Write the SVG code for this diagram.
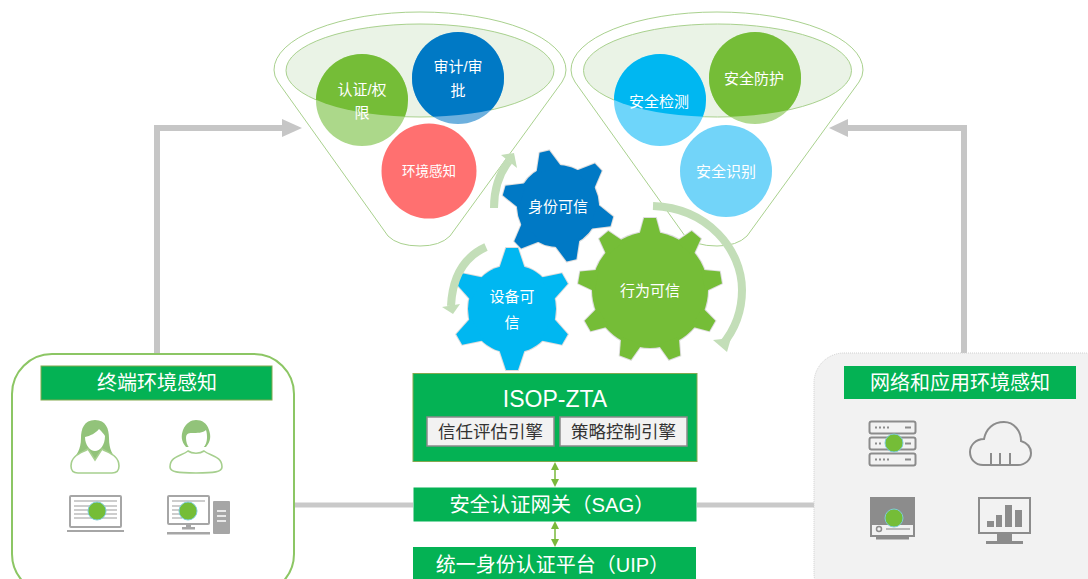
<svg xmlns="http://www.w3.org/2000/svg" width="1088" height="579" viewBox="0 0 1088 579">
<style>
text{font-family:"Liberation Sans","Noto Sans CJK SC","Noto Sans",sans-serif;text-anchor:middle;dominant-baseline:central}
.w{fill:#fff}.c15{font-size:15px}.t20{font-size:20px}
.fun{fill:#fff;stroke:#A9D18E;stroke-width:1}
.ell{fill:#EAF3E6;stroke:#A9D18E;stroke-width:1}
.bar{fill:#04B254;stroke:#84A94F;stroke-width:1}
.sub{fill:#F2F2F2;stroke:#8A8A8A;stroke-width:1.5}
.big{fill:none;stroke:#C6C6C6;stroke-width:6}
.cur{fill:none;stroke:#C3DEB8;stroke-width:8}
.curh{fill:#C3DEB8}
.dbl{stroke:#7AB93B;stroke-width:1.5}
.dblh{fill:#7AB93B}
.ico{fill:none;stroke:#A6A6A6;stroke-width:2}
.ic2{fill:none;stroke:#8C8C8C;stroke-width:2}
.fil{fill:#8C8C8C}
.gry{fill:#A6A6A6}
.dot{fill:#75BD37;stroke:#7CCBD6;stroke-width:1}
.per{fill:#fff;stroke:#A6CF8E;stroke-width:1.6}
.hair{fill:#92C37A}
</style>
<defs>
<clipPath id="e1"><ellipse cx="420" cy="70.500" rx="134" ry="46.500"/></clipPath>
<clipPath id="e2"><ellipse cx="717.500" cy="70.500" rx="134" ry="46.500"/></clipPath>
<path id="funnel" d="M274 70A146 58 0 0 1 566 70Q566 76 562 82L450 236Q440 246 420 246Q398 246 388 236L278 82Q274 76 274 70Z"/>
<g id="g6">
<circle r="44"/>
<polygon id="t6" points="-13,-40 -6,-61 6,-61 13,-40"/>
<use href="#t6" transform="rotate(60)"/><use href="#t6" transform="rotate(120)"/><use href="#t6" transform="rotate(180)"/><use href="#t6" transform="rotate(240)"/><use href="#t6" transform="rotate(300)"/>
</g>
<g id="gb">
<circle r="41"/>
<polygon id="tb" points="-13,-37 -5,-56 5,-56 13,-37"/>
<use href="#tb" transform="rotate(60)"/><use href="#tb" transform="rotate(120)"/><use href="#tb" transform="rotate(180)"/><use href="#tb" transform="rotate(240)"/><use href="#tb" transform="rotate(300)"/>
</g>
<g id="g9">
<circle r="58"/>
<polygon id="t9" points="-11,-54 -6,-72 6,-72 11,-54"/>
<use href="#t9" transform="rotate(40)"/><use href="#t9" transform="rotate(80)"/><use href="#t9" transform="rotate(120)"/><use href="#t9" transform="rotate(160)"/><use href="#t9" transform="rotate(200)"/><use href="#t9" transform="rotate(240)"/><use href="#t9" transform="rotate(280)"/><use href="#t9" transform="rotate(320)"/>
</g>
</defs>
<rect width="1088" height="579" fill="#fff"/>

<g id="connectors">
<path class="big" d="M157 355V128H284"/>
<polygon points="302,128 282,119 282,137" fill="#C6C6C6"/>
<path class="big" d="M964 355V128H846"/>
<polygon points="829,128 848,119 848,137" fill="#C6C6C6"/>
<path d="M294 505H413M697 505H814" fill="none" stroke="#C9C9C9" stroke-width="5"/>
<path class="dbl" d="M555 468V481M555 527V541"/>
<polygon class="dblh" points="555,462 551,470 559,470"/>
<polygon class="dblh" points="555,487 551,479 559,479"/>
<polygon class="dblh" points="555,521 551,529 559,529"/>
<polygon class="dblh" points="555,547 551,539 559,539"/>
</g>

<g id="funnel-left">
<use href="#funnel" class="fun"/>
<ellipse class="ell" cx="420" cy="70.500" rx="134" ry="46.500"/>
<circle cx="362" cy="100" r="46" fill="#ACD88A"/>
<circle cx="362" cy="100" r="46" fill="#75BD37" clip-path="url(#e1)"/>
<circle cx="458" cy="78" r="46" fill="#6DB0DE"/>
<circle cx="458" cy="78" r="46" fill="#0079C5" clip-path="url(#e1)"/>
<circle cx="429" cy="171" r="47.500" fill="#FF7070"/>
<text class="w c15" x="362" y="89">认证/权</text>
<text class="w c15" x="362" y="112">限</text>
<text class="w c15" x="458" y="66">审计/审</text>
<text class="w c15" x="458" y="90">批</text>
<text class="w" font-size="13.500" x="429" y="171">环境感知</text>
</g>

<g id="funnel-right">
<use href="#funnel" class="fun" transform="translate(297,0)"/>
<ellipse class="ell" cx="717.500" cy="70.500" rx="134" ry="46.500"/>
<circle cx="660" cy="100" r="46" fill="#6ED5FA"/>
<circle cx="660" cy="100" r="46" fill="#00B7F1" clip-path="url(#e2)"/>
<circle cx="755" cy="78" r="46" fill="#B0D98E"/>
<circle cx="755" cy="78" r="46" fill="#75BD37" clip-path="url(#e2)"/>
<circle cx="726" cy="171" r="46" fill="#72D4F9"/>
<text class="w c15" x="659" y="101">安全检测</text>
<text class="w c15" x="754" y="78">安全防护</text>
<text class="w c15" x="726" y="171">安全识别</text>
</g>

<g id="gear-identity">
<use href="#gb" transform="translate(558,206) rotate(-14)" fill="#0079C5" stroke="#DDD" stroke-width="2"/>
<use href="#gb" transform="translate(558,206) rotate(-14)" fill="#0079C5"/>
<text class="w c15" x="558" y="206">身份可信</text>
</g>
<g id="gear-device">
<use href="#g6" transform="translate(512,309)" fill="#00B7F1" stroke="#DDD" stroke-width="2"/>
<use href="#g6" transform="translate(512,309)" fill="#00B7F1"/>
<text class="w c15" x="512" y="296">设备可</text>
<text class="w c15" x="512" y="322">信</text>
</g>
<g id="gear-behavior">
<use href="#g9" transform="translate(650,290)" fill="#75BD37" stroke="#DDD" stroke-width="2"/>
<use href="#g9" transform="translate(650,290)" fill="#75BD37"/>
<text class="w c15" x="650" y="290">行为可信</text>
</g>

<g id="cycle-arrows">
<path class="cur" d="M494 208Q494 180 509 161"/>
<polygon class="curh" points="501,155 514,153 517,168"/>
<path class="cur" d="M486 247Q453 262 451 306"/>
<polygon class="curh" points="442,307 460,304 453,314"/>
<path class="cur" d="M653 206C708 208 742 250 742 290C742 313 733 332 722 345"/>
<polygon class="curh" points="713,340 731,338 727,352"/>
</g>

<g id="terminal-box">
<rect x="12" y="354" width="282" height="240" rx="40" fill="#fff" stroke="#8CC664" stroke-width="2"/>
<rect class="bar" x="41" y="366" width="231" height="34"/>
<text class="w t20" x="157" y="383">终端环境感知</text>
<g id="icon-female">
<path class="hair" d="M95 420C84 420 81 429 81 438C81 450 76 455 73 460H117C113 455 109 450 109 438C109 429 106 420 95 420Z"/>
<path class="per" d="M71 466C71 455 82 453 88 449L95 460L102 449C108 453 119 455 119 466C119 472 115 473 112 473H78C75 473 71 472 71 466Z"/>
<path d="M85 437C90 436 96 433 99 429C102 432 104 434 105 436C105 445 100 451 95 451C90 451 85 445 85 437Z" fill="#fff"/>
</g>
<g id="icon-male">
<path class="hair" d="M186 447C181 441 181 436 183 430C186 423 191 420 196 420C202 420 207 423 209 430C211 436 211 441 206 447Z"/>
<path d="M186 438C186 434 188 433 192 433C197 433 203 433 206 430C207 433 207 436 207 438C207 446 201 451 196 451C191 451 186 446 186 438Z" fill="#fff"/>
<path class="per" d="M170 467C170 456 182 456 188 451C192 454 200 454 204 451C210 456 222 456 222 467C222 472 214 473 196 473C178 473 170 472 170 467Z"/>
</g>
<g id="icon-laptop">
<rect class="ico" x="70" y="496" width="51" height="31" rx="1"/>
<rect class="gry" x="67" y="530" width="57" height="2"/>
<path d="M74 501H117M74 506H117M74 510H117M74 514H117M74 518H117" stroke="#BDBDBD" stroke-width="1.500"/>
<circle class="dot" cx="97" cy="511" r="9"/>
</g>
<g id="icon-desktop">
<rect class="ico" x="168" y="496" width="41" height="28" rx="1"/>
<path d="M172 501H205M172 506H182M172 510H182M172 514H182M172 518H182" stroke="#BDBDBD" stroke-width="1.500"/>
<rect class="gry" x="186" y="524" width="5" height="5"/>
<rect class="gry" x="182" y="527" width="13" height="2.500"/>
<rect class="gry" x="167" y="532" width="43" height="2.500"/>
<rect class="gry" x="213" y="501" width="17" height="33" rx="1"/>
<path d="M217 511H226M217 516H226M217 521H226" stroke="#fff" stroke-width="1.500"/>
<circle class="dot" cx="188" cy="511" r="9"/>
</g>
</g>

<g id="network-box">
<rect x="814" y="353" width="300" height="250" rx="30" fill="#F2F2F2" stroke="#D0D0D0" stroke-width="1" stroke-dasharray="1 1"/>
<rect x="844" y="366" width="232" height="33" fill="#04B254"/>
<text class="w t20" x="960" y="383">网络和应用环境感知</text>
<g id="icon-server">
<rect class="ic2" x="869.500" y="421.500" width="46" height="12" rx="2"/>
<rect class="ic2" x="869.500" y="437.500" width="46" height="12" rx="2"/>
<rect class="ic2" x="869.500" y="453.500" width="46" height="12" rx="2"/>
<path d="M875 427.500H890M875 443.500H881M875 459.500H890" stroke="#8C8C8C" stroke-width="2" stroke-dasharray="2 2"/>
<path d="M905 427.500H911M905 443.500H911M905 459.500H911" stroke="#8C8C8C" stroke-width="2"/>
<circle class="dot" cx="894" cy="443" r="9"/>
</g>
<g id="icon-cloud">
<path d="M983 465C975 465 970 459 970 452C970 445 976 439 984 439C986 429 993 422 1004 422C1014 422 1021 431 1021 441C1027 443 1031 447 1031 453C1031 460 1025 465 1018 465Z" fill="none" stroke="#8C8C8C" stroke-width="2"/>
<path d="M991 453V465M1000 453V465M1010 453V465" stroke="#8C8C8C" stroke-width="2"/>
</g>
<g id="icon-device">
<rect class="fil" x="870" y="497" width="45" height="26"/>
<rect x="871" y="524" width="43" height="12" fill="#F2F2F2" stroke="#8C8C8C" stroke-width="2"/>
<rect class="fil" x="876" y="537" width="33" height="2.500"/>
<circle cx="879" cy="529" r="2.500" fill="none" stroke="#8C8C8C" stroke-width="1.500"/>
<path d="M886 529H910" stroke="#A6A6A6" stroke-width="1.500"/>
<circle class="dot" cx="894" cy="518" r="9"/>
</g>
<g id="icon-monitor">
<rect class="ic2" x="979" y="498" width="51" height="35" stroke-width="2.500"/>
<rect class="fil" x="997" y="534" width="15" height="7"/>
<rect class="fil" x="986" y="541" width="37" height="3"/>
<rect class="fil" x="987" y="521" width="7" height="6"/>
<rect class="fil" x="996" y="515" width="6" height="12"/>
<rect class="fil" x="1005" y="505" width="7" height="22"/>
<rect class="fil" x="1015" y="510" width="7" height="17"/>
</g>
</g>

<g id="isop-zta">
<rect class="bar" x="413" y="373.500" width="284" height="88"/>
<text class="w" x="555" y="399" font-size="23">ISOP-ZTA</text>
<rect class="sub" x="427" y="417" width="127" height="29"/>
<text x="490.500" y="432" font-size="17.500" fill="#333">信任评估引擎</text>
<rect class="sub" x="560" y="417" width="127" height="29"/>
<text x="623.500" y="432" font-size="17.500" fill="#333">策略控制引擎</text>
</g>
<g id="sag">
<rect x="413.500" y="487.500" width="283" height="34" fill="#04B254"/>
<text class="w" font-size="20.300" x="552" y="505">安全认证网关（SAG）</text>
</g>
<g id="uip">
<rect x="413" y="547" width="283" height="40" fill="#04B254"/>
<text class="w t20" x="552.500" y="565">统一身份认证平台（UIP）</text>
</g>
</svg>
